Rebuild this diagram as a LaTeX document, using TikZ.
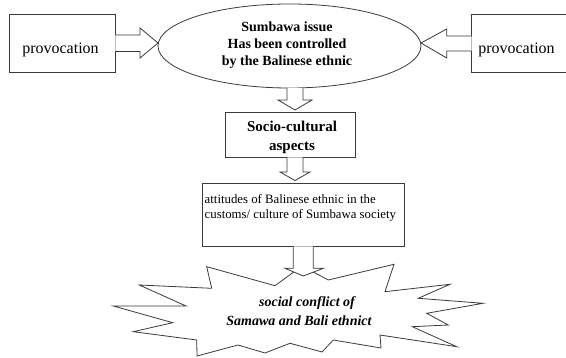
\documentclass[tikz,border=0pt]{standalone}
\usepackage{fontspec}
\setmainfont{Liberation Serif}
\usetikzlibrary{shapes.geometric}
\definecolor{ln}{HTML}{3A3A3A}
\begin{document}
\begin{tikzpicture}[x=1pt,y=-1pt,
  box/.style={draw=ln,line width=0.8pt,rectangle,inner sep=0pt},
  arr/.style={draw=ln,line width=0.8pt,fill=white,line join=miter},
  txt/.style={inner sep=0pt,text=black}]
\useasboundingbox (0,0) rectangle (566,358);
% left / right boxes
\node[box,minimum width=106pt,minimum height=58pt] (lbox) at (62,43) {};
\node[txt,anchor=base,font={\fontsize{16}{18}\selectfont}] (ltxt) at (60.5,54) {provocation};
\draw[ln,line width=0.8pt] (575,14) -- (471.7,14) -- (471.7,72) -- (575,72);
\coordinate (rbox) at (471.7,43);
\node[txt,anchor=base,font={\fontsize{16}{18}\selectfont}] (rtxt) at (516.5,54) {provocation};
% ellipse
\node[draw=ln,line width=0.8pt,ellipse,minimum width=263pt,minimum height=84pt,inner sep=0pt] (ell) at (289.5,46) {};
\node[txt,align=center,font={\fontsize{14}{17}\selectfont\bfseries}] (etxt) at (287,45.5) {Sumbawa issue\\ Has been controlled\\ by the Balinese ethnic};
% side arrows
\draw[arr] (lbox.east |- 0,35) -- (140,35) -- (140,28) -- (158,43) -- (140,58) -- (140,51.5) -- (lbox.east |- 0,51.5);
\draw[arr] (rbox |- 0,36) -- (446.7,36) -- (446.7,29) -- (421,43) -- (446.7,58) -- (446.7,51) -- (rbox |- 0,51);
% socio-cultural box
\node[box,minimum width=130pt,minimum height=45pt] (soc) at (290,134.5) {};
\node[txt,align=center,font={\fontsize{15}{18.5}\selectfont\bfseries}] (stxt) at (292,137.5) {Socio-cultural\\ aspects};
% attitudes box
\node[box,minimum width=202pt,minimum height=63pt] (att) at (303,214.5) {};
\node[txt,align=left,anchor=north west,font={\fontsize{12.8}{15}\selectfont}] (atxt) at (204.5,194) {attitudes of Balinese ethnic in the\\ customs/ culture of Sumbawa society};
% explosion
\draw[ln,line width=0.8pt,line join=miter] (206.7,266.7) -- (211.7,288.3) -- (139.3,285) -- (186,306) -- (113.3,306)
  -- (172.7,322.7) -- (133.3,331.7) -- (196.7,340) -- (197,356) -- (238,345) -- (265,353) -- (290,343.3)
  -- (322,352) -- (333.3,340) -- (381,348) -- (380,335) -- (456.7,346.7) -- (412.3,326.7) -- (448.3,325)
  -- (426.7,313.3) -- (483,303.3) -- (418.3,298.3) -- (450,284.3) -- (385,291.7) -- (394,264.3)
  -- (328.3,280) -- (302,266) -- (275,285.7) -- cycle;
\node[txt,align=center,font={\fontsize{14}{19}\selectfont\bfseries\itshape}] (ctxt) at (299,311) {\hspace*{16pt}social conflict of\\ Samawa and Bali ethnict};
% down arrows
\draw[arr] (287,87.9) -- (287,100) -- (278,100) -- (295,110) -- (312,100) -- (303,100) -- (303,87.8);
\draw[arr] (soc.south -| 287,0) -- (287,172) -- (280,172) -- (295,180.5) -- (310,172) -- (303,172) -- (soc.south -| 303,0);
\draw[arr] (att.south -| 293.3,0) -- (293.3,268.3) -- (285,268.3) -- (303.3,276) -- (323.3,268.3) -- (313.3,268.3) -- (att.south -| 313.3,0);
\end{tikzpicture}
\end{document}
